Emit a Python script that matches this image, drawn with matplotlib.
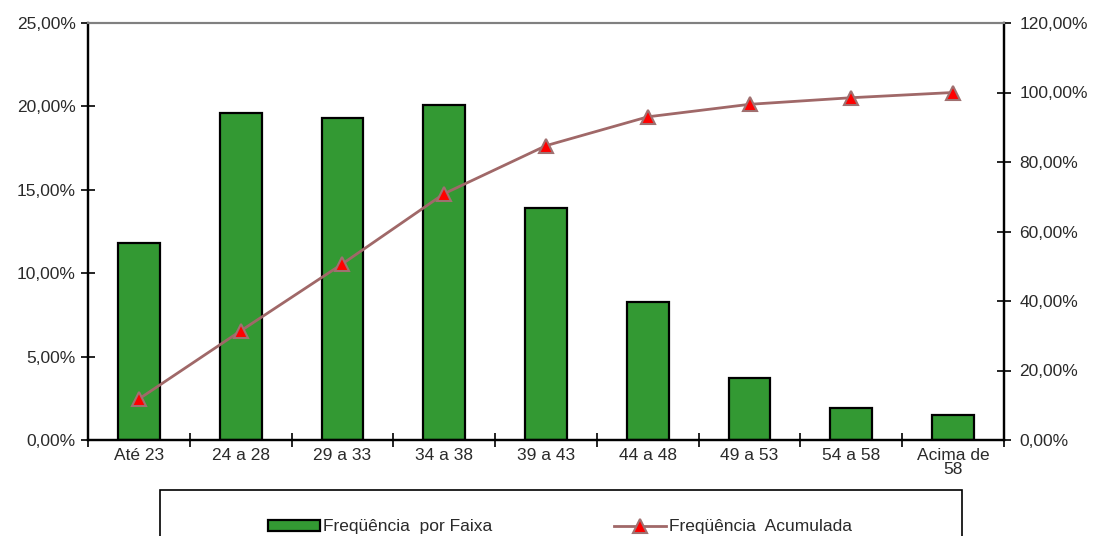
import matplotlib.pyplot as plt
import matplotlib.patches as patches
from matplotlib.ticker import FuncFormatter, FixedLocator
from matplotlib.lines import Line2D

plt.rcParams['font.family'] = ['Liberation Sans', 'DejaVu Sans']

# Dados
faixas = ["Até 23", "24 a 28", "29 a 33", "34 a 38", "39 a 43",
          "44 a 48", "49 a 53", "54 a 58", "Acima de\n58"]
freq_faixa = [11.8, 19.6, 19.3, 20.1, 13.9, 8.3, 3.7, 1.9, 1.5]
freq_acum = [11.8, 31.4, 50.7, 70.9, 84.7, 93.0, 96.6, 98.5, 100.0]

verde = '#339933'
linha = '#a06868'
texto = '#2a2a2a'
fs = 12.5

fig = plt.figure(figsize=(10.98, 5.36), dpi=100)
ax = fig.add_axes([88/1098, 1-440/536, 916/1098, 417/536])
ax2 = ax.twinx()

x = list(range(len(faixas)))
ax.bar(x, freq_faixa, width=0.41, color=verde, edgecolor='black', linewidth=1.6, zorder=2)
ax2.plot(x, freq_acum, color=linha, linewidth=2, marker='^', markersize=9.5,
         markerfacecolor='red', markeredgecolor='#a07070', markeredgewidth=1.5, zorder=3)

ax.set_xlim(-0.5, len(faixas) - 0.5)
ax.set_ylim(0, 25)
ax2.set_ylim(0, 120)

pct = FuncFormatter(lambda v, p: f"{v:.2f}".replace('.', ',') + '%')
ax.set_yticks([0, 5, 10, 15, 20, 25])
ax.yaxis.set_major_formatter(pct)
ax2.set_yticks([0, 20, 40, 60, 80, 100, 120])
ax2.yaxis.set_major_formatter(pct)

ax.set_xticks(x)
ax.set_xticklabels(faixas, linespacing=0.85)
ax.xaxis.set_minor_locator(FixedLocator([i - 0.5 for i in range(len(faixas) + 1)]))
ax.tick_params(axis='x', which='major', length=0, pad=6, labelsize=fs, labelcolor=texto)
ax.tick_params(axis='x', which='minor', length=10, direction='inout', width=1.2)
ax.tick_params(axis='y', length=10, direction='inout', width=1.2, pad=4, labelsize=fs, labelcolor=texto)
ax2.tick_params(axis='y', length=10, direction='inout', width=1.2, pad=6, labelsize=fs, labelcolor=texto)

for a in (ax, ax2):
    a.spines['top'].set_color('#808080')
    a.spines['top'].set_linewidth(1.5)
    for s in ('left', 'right', 'bottom'):
        a.spines[s].set_color('black')
        a.spines[s].set_linewidth(1.6)

# Caixa da legenda (cortada na parte de baixo)
fig.patches.append(patches.Rectangle((160/1098, -0.05), 802/1098, 0.05 + 46/536,
                                     transform=fig.transFigure, fill=False,
                                     edgecolor='black', linewidth=1.2))
h1 = patches.Patch(facecolor=verde, edgecolor='black', linewidth=1.6)
h2 = Line2D([], [], color=linha, linewidth=2, marker='^', markersize=9.5,
            markerfacecolor='red', markeredgecolor='#a07070', markeredgewidth=1.5)
fig.legend([h1, h2], ["Freqüência  por Faixa", "Freqüência  Acumulada"],
           ncol=2, loc='center', bbox_to_anchor=(560/1098, 1-527/536),
           frameon=False, fontsize=fs, handlelength=3.0, handleheight=0.55,
           handletextpad=0.17, columnspacing=7.0, labelcolor=texto)

fig.savefig('out.png', dpi=100)
